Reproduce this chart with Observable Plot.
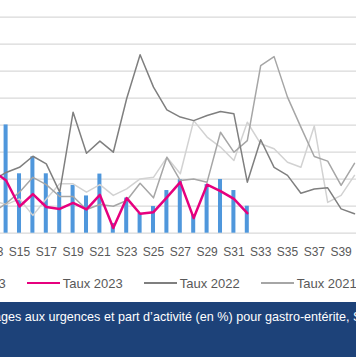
<!DOCTYPE html>
<html><head><meta charset="utf-8">
<script src="https://cdn.jsdelivr.net/npm/d3@7"></script>
<script src="https://cdn.jsdelivr.net/npm/@observablehq/plot@0.6"></script>
<style>
html,body{margin:0;padding:0;background:#fff;}
#wrap{position:relative;width:356px;height:364px;overflow:hidden;font-family:"Liberation Sans",Arial,sans-serif;}
#chart{position:absolute;left:0;top:0;}
#legend{position:absolute;top:275px;left:0;display:flex;align-items:center;white-space:nowrap;font-size:13px;color:#595959;height:16px;}
.item{display:flex;align-items:center;margin-right:21px;}
.sw{display:inline-block;width:33px;margin-right:3px;}
.sq{display:inline-block;width:8px;height:8px;margin-right:4px;background:#4f97dc;}
#banner{position:absolute;left:0;top:302px;width:356px;height:55px;background:#1d4279;overflow:hidden;}
#btext{position:absolute;top:8px;left:0;white-space:nowrap;color:#fff;font-size:12.6px;}
</style></head><body>
<div id="wrap"><div id="chart"></div><div id="legend"></div><div id="banner"><div id="btext"></div></div></div>
<script>
// Weeks shown (S13 .. S40)
const weeks = [13,14,15,16,17,18,19,20,21,22,23,24,25,26,27,28,29,30,31,32,33,34,35,36,37,38,39,40];
// Bars: passages 2023 (grid units)
const passages2023 = [null,4.01,2.2,2.83,2.2,1.51,1.77,1.38,2.19,0.36,1.3,0.73,0.99,1.58,1.98,0.69,1.8,1.99,1.58,1.0,null,null,null,null,null,null,null,null];
// Lines (grid units)
const taux2023 = [2.32,1.95,0.99,1.45,0.97,0.9,1.12,0.88,1.42,0.19,1.3,0.72,0.78,1.33,1.89,0.56,1.8,1.56,1.27,0.74,null,null,null,null,null,null,null,null];
const taux2022 = [1.95,2.25,2.44,2.85,2.57,1.52,4.48,2.96,3.41,3.0,4.99,6.61,5.41,4.57,4.30,4.17,4.36,4.51,4.42,1.89,3.46,2.44,2.14,1.48,1.64,1.68,0.90,0.72];
const taux2021 = [0.77,1.1,1.52,2.07,1.80,1.36,1.36,0.88,1.06,1.0,1.21,1.85,1.31,2.81,1.95,2.01,1.89,3.74,3.0,3.43,6.21,6.54,5.04,3.93,2.84,2.67,1.77,2.59];
const taux2020 = [1.21,1.06,1.27,0.66,1.27,1.83,1.83,1.52,1.80,1.40,1.64,2.01,2.07,2.81,2.20,4.17,3.56,3.19,2.69,4.11,3.31,3.13,2.63,2.44,3.97,1.14,1.40,2.14];
const gridValues = [0,1,2,3,4,5,6,7,8];
const tickWeeks = [13,15,17,19,21,23,25,27,29,31,33,35,37,39];

const series = (arr) => weeks.map((w,i)=>({week:w, value:arr[i]})).filter(d=>d.value!=null);

const W0 = 15 - 19/13.4, W1 = 15 + 337/13.4;
const chart = Plot.plot({
  width:356, height:265, marginLeft:0, marginRight:0, marginTop:0, marginBottom:32.3,
  x:{type:"linear", domain:[W0,W1], axis:null, label:null},
  y:{domain:[0,232.7/27], axis:null, label:null},
  style:{fontFamily:"'Liberation Sans',Arial,sans-serif", fontSize:"12px", color:"#595959", background:"transparent", overflow:"hidden"},
  marks:[
    Plot.ruleY(gridValues, {stroke:"#d9d9d9", strokeWidth:1.3}),
    Plot.rect(series(passages2023), {x1:d=>d.week-0.15, x2:d=>d.week+0.15, y1:0, y2:"value", fill:"#4f97dc"}),
    Plot.line(series(taux2020), {x:"week", y:"value", stroke:"#d2d2d2", strokeWidth:1.5, clip:true}),
    Plot.line(series(taux2021), {x:"week", y:"value", stroke:"#a6a6a6", strokeWidth:1.5, clip:true}),
    Plot.line(series(taux2022), {x:"week", y:"value", stroke:"#7f7f7f", strokeWidth:1.5, clip:true}),
    Plot.line(series(taux2023), {x:"week", y:"value", stroke:"#e6007e", strokeWidth:2.5, clip:true}),
    Plot.axisX(tickWeeks, {tickFormat:d=>"S"+d, tickSize:0, tickPadding:14, fontSize:12, fill:"#595959", label:null})
  ]
});
document.getElementById("chart").appendChild(chart);

// Legend
const legendItems = [
  {label:"Passages 2023", type:"bar", color:"#4f97dc"},
  {label:"Taux 2023", type:"line", color:"#e6007e", w:2.5},
  {label:"Taux 2022", type:"line", color:"#7f7f7f", w:1.5},
  {label:"Taux 2021", type:"line", color:"#a6a6a6", w:1.5},
  {label:"Taux 2020", type:"line", color:"#d2d2d2", w:1.5}
];
const leg = document.getElementById("legend");
legendItems.forEach(it=>{
  const d = document.createElement("div"); d.className="item";
  const s = document.createElement("span");
  if(it.type==="bar"){ s.className="sq"; s.style.background=it.color; }
  else { s.className="sw"; s.style.height=it.w+"px"; s.style.background=it.color; }
  d.appendChild(s);
  const t = document.createElement("span"); t.textContent=it.label; d.appendChild(t);
  leg.appendChild(d);
});
const first = leg.children[0];
leg.style.left = (26.7 - 21 - first.getBoundingClientRect().width) + "px";

// Banner caption
const prefix = "Figure 1 : Nombre de passa";
const rest = "ges aux urgences et part d’activité (en %) pour gastro-entérite, S13 à S40";
const bt = document.getElementById("btext");
const p = document.createElement("span"); p.textContent = prefix;
const r = document.createElement("span"); r.textContent = rest;
bt.appendChild(p); bt.appendChild(r);
bt.style.left = (1 - p.getBoundingClientRect().width) + "px";
</script>
</body></html>
